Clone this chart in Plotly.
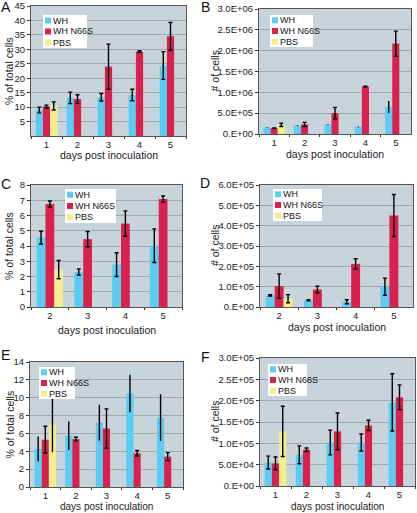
import plotly.graph_objects as go

W, H = 417, 513

# ---------------- data ----------------
series_names = ["WH", "WH N66S", "PBS"]

days_A = ["1", "2", "3", "4", "5"]
A_wh = [9.0, 13.2, 13.4, 14.2, 24.4]
A_wh_err = [1.0, 2.0, 1.3, 2.0, 4.8]
A_n66s = [10.2, 12.8, 24.0, 29.2, 34.5]
A_n66s_err = [0.5, 1.5, 7.8, 0.3, 4.8]
A_pbs = [10.4, None, None, None, None]
A_pbs_err = [1.4, 0, 0, 0, 0]

days_B = ["1", "2", "3", "4", "5"]
B_wh = [1.6e5, 2.0e5, 2.3e5, 1.7e5, 6.5e5]
B_wh_err = [0.1e5, 0.1e5, 0.1e5, 0.1e5, 1.4e5]
B_n66s = [1.4e5, 2.3e5, 5.0e5, 1.14e6, 2.17e6]
B_n66s_err = [0.05e5, 0.5e5, 1.4e5, 0.1e5, 3.0e5]
B_pbs = [2.2e5, None, None, None, None]
B_pbs_err = [0.4e5, 0, 0, 0, 0]

days_C = ["2", "3", "4", "5"]
C_wh = [4.55, 2.3, 2.78, 4.02]
C_wh_err = [0.42, 0.2, 0.78, 1.1]
C_n66s = [6.75, 4.45, 5.47, 7.08]
C_n66s_err = [0.2, 0.5, 0.83, 0.2]
C_pbs = [2.45, None, None, None]
C_pbs_err = [0.6, 0, 0, 0]

days_D = ["2", "3", "4", "5"]
D_wh = [0.57e5, 0.33e5, 0.26e5, 1.0e5]
D_wh_err = [0.03e5, 0.03e5, 0.1e5, 0.42e5]
D_n66s = [1.03e5, 0.86e5, 2.12e5, 4.5e5]
D_n66s_err = [0.6e5, 0.16e5, 0.25e5, 1.03e5]
D_pbs = [0.41e5, None, None, None]
D_pbs_err = [0.2e5, 0, 0, 0]

days_E = ["1", "2", "3", "4", "5"]
E_wh = [4.26, 5.74, 7.2, 10.48, 7.78]
E_wh_err = [1.4, 1.6, 2.0, 2.1, 2.6]
E_n66s = [5.3, 5.37, 6.55, 3.78, 3.4]
E_n66s_err = [1.5, 0.2, 2.2, 0.3, 0.45]
E_pbs = [7.0, None, None, None, None]
E_pbs_err = [3.1, 0, 0, 0, 0]

days_F = ["1", "2", "3", "4", "5"]
F_wh = [5.5e4, 7.3e4, 1.02e5, 1.02e5, 1.96e5]
F_wh_err = [1.5e4, 2.1e4, 2.9e4, 2.0e4, 6.7e4]
F_n66s = [5.3e4, 8.5e4, 1.28e5, 1.42e5, 2.08e5]
F_n66s_err = [1.5e4, 0.4e4, 4.3e4, 1.2e4, 2.9e4]
F_pbs = [1.28e5, None, None, None, None]
F_pbs_err = [5.9e4, 0, 0, 0, 0]

A_ticks = [5, 10, 15, 20, 25, 30, 35, 40, 45]
A_ticktext = ["5", "10", "15", "20", "25", "30", "35", "40", "45"]
B_ticks = [0, 5e5, 1e6, 1.5e6, 2e6, 2.5e6, 3e6]
B_ticktext = ["0.E+00", "5.0E+05", "1.0E+06", "1.5E+06", "2.0E+06", "2.5E+06", "3.0E+06"]
C_ticks = [0, 1, 2, 3, 4, 5, 6, 7, 8]
C_ticktext = ["0", "1", "2", "3", "4", "5", "6", "7", "8"]
D_ticks = [0, 1e5, 2e5, 3e5, 4e5, 5e5, 6e5]
D_ticktext = ["0.E+00", "1.0E+05", "2.0E+05", "3.0E+05", "4.0E+05", "5.0E+05", "6.0E+05"]
E_ticks = [0, 2, 4, 6, 8, 10, 12, 14]
E_ticktext = ["0", "2", "4", "6", "8", "10", "12", "14"]
F_ticks = [0, 5e4, 1e5, 1.5e5, 2e5, 2.5e5, 3e5]
F_ticktext = ["0.E+00", "5.0E+04", "1.0E+05", "1.5E+05", "2.0E+05", "2.5E+05", "3.0E+05"]

x_title = "days post inoculation"
y_title_pct = "% of total cells"
y_title_num = "# of cells"

# ---------------- styling / layout ----------------
COLORS = ["#5ccdf2", "#d8214c", "#f3ef8e"]
FONT = "Liberation Sans, Arial, sans-serif"
PLOT_BG = "#c7d4db"
GRID = "#9ea9ae"

panels = [
    dict(letter="A", days=days_A, vals=[A_wh, A_n66s, A_pbs], errs=[A_wh_err, A_n66s_err, A_pbs_err],
         ymax=45, ticks=A_ticks, ticktext=A_ticktext, ytitle=y_title_pct,
         box=(31, 6, 186, 136), legend=(43, 15, 87, 48), letter_pos=(0, 7), capw=[2, 2, 2],
         xtitle_y=155, ytitle_x=9),
    dict(letter="B", days=days_B, vals=[B_wh, B_n66s, B_pbs], errs=[B_wh_err, B_n66s_err, B_pbs_err],
         ymax=3e6, ticks=B_ticks, ticktext=B_ticktext, ytitle=y_title_num,
         box=(259, 9, 411, 134), legend=(270, 15, 313, 47), letter_pos=(200, 7), capw=[0, 2, 2],
         xtitle_y=154, ytitle_x=215),
    dict(letter="C", days=days_C, vals=[C_wh, C_n66s, C_pbs], errs=[C_wh_err, C_n66s_err, C_pbs_err],
         ymax=8, ticks=C_ticks, ticktext=C_ticktext, ytitle=y_title_pct,
         box=(31, 185, 182, 307), legend=(65, 189, 116, 223), letter_pos=(0, 184), capw=[2, 2, 2],
         xtitle_y=330, ytitle_x=9),
    dict(letter="D", days=days_D, vals=[D_wh, D_n66s, D_pbs], errs=[D_wh_err, D_n66s_err, D_pbs_err],
         ymax=6e5, ticks=D_ticks, ticktext=D_ticktext, ytitle=y_title_num,
         box=(260, 185, 413, 307), legend=(273, 189, 322, 221), letter_pos=(199, 183), capw=[2, 2, 2],
         xtitle_y=327, ytitle_x=215),
    dict(letter="E", days=days_E, vals=[E_wh, E_n66s, E_pbs], errs=[E_wh_err, E_n66s_err, E_pbs_err],
         ymax=14, ticks=E_ticks, ticktext=E_ticktext, ytitle=y_title_pct,
         box=(30, 362, 183, 487), legend=(39, 367, 75, 399), letter_pos=(0, 355), capw=[0, 2, 0],
         xtitle_y=506.5, ytitle_x=9),
    dict(letter="F", days=days_F, vals=[F_wh, F_n66s, F_pbs], errs=[F_wh_err, F_n66s_err, F_pbs_err],
         ymax=3e5, ticks=F_ticks, ticktext=F_ticktext, ytitle=y_title_num,
         box=(260, 358, 415, 486), legend=(268, 364, 307, 396), letter_pos=(200, 357), capw=[2, 2, 2],
         xtitle_y=506.5, ytitle_x=215),
]


def px_x(p):
    return p / W


def px_y(p):
    return 1 - p / H


fig = go.Figure()
shapes = []
annotations = []
layout_axes = {}

for i, p in enumerate(panels):
    n = i + 1
    xa = "x" if n == 1 else f"x{n}"
    ya = "y" if n == 1 else f"y{n}"
    for s in range(3):
        fig.add_trace(go.Bar(
            x=p["days"], y=p["vals"][s], name=series_names[s],
            marker=dict(color=COLORS[s], line=dict(width=0)),
            error_y=dict(type="data", array=p["errs"][s], color="black",
                         thickness=1.4, width=p["capw"][s], visible=True),
            xaxis=xa, yaxis=ya, showlegend=False, hoverinfo="skip",
        ))
    x0, y0, x1, y1 = p["box"]
    xkey = "xaxis" if n == 1 else f"xaxis{n}"
    ykey = "yaxis" if n == 1 else f"yaxis{n}"
    layout_axes[xkey] = dict(
        domain=[px_x(x0), px_x(x1)], anchor=ya, type="category",
        tickson="boundaries", ticks="outside", ticklen=2, tickwidth=1, tickcolor="#333",
        showline=True, linecolor="#555", linewidth=1, mirror=True,
        showgrid=False, automargin=False,
        tickfont=dict(size=9.5, color="#222", family=FONT),
    )
    layout_axes[ykey] = dict(
        domain=[px_y(y1), px_y(y0)], anchor=xa, range=[0, p["ymax"]],
        tickmode="array", tickvals=p["ticks"], ticktext=p["ticktext"],
        ticks="outside", ticklen=3, tickwidth=1, tickcolor="#333",
        showline=True, linecolor="#555", linewidth=1, mirror=True,
        showgrid=True, gridcolor=GRID, gridwidth=1, zeroline=False, automargin=False,
        tickfont=dict(size=9.5, color="#222", family=FONT),
    )
    # axis titles
    tsize = 10 if p["xtitle_y"] > 480 else 10.5
    annotations.append(dict(text=x_title, x=px_x((x0 + x1) / 2), y=px_y(p["xtitle_y"]),
                            xref="paper", yref="paper", xanchor="center", yanchor="middle",
                            showarrow=False, borderpad=0,
                            font=dict(size=tsize, color="#222", family=FONT)))
    annotations.append(dict(text=p["ytitle"], x=px_x(p["ytitle_x"]), y=px_y((y0 + y1) / 2),
                            xref="paper", yref="paper", xanchor="center", yanchor="middle",
                            textangle=-90, showarrow=False, borderpad=0,
                            font=dict(size=10.5, color="#222", family=FONT)))
    # plot background per panel
    shapes.append(dict(type="rect", xref=f"{xa} domain", yref=f"{ya} domain",
                       x0=0, x1=1, y0=0, y1=1, fillcolor=PLOT_BG, line=dict(width=0), layer="below"))
    # panel letter
    lx, ly = p["letter_pos"]
    annotations.append(dict(text=p["letter"], x=px_x(lx), y=px_y(ly), xref="paper", yref="paper",
                            xanchor="left", yanchor="middle", showarrow=False, borderpad=0,
                            font=dict(size=14, color="#111", family=FONT)))
    # legend box
    lx0, ly0, lx1, ly1 = p["legend"]
    shapes.append(dict(type="rect", xref="paper", yref="paper",
                       x0=px_x(lx0), x1=px_x(lx1), y0=px_y(ly1), y1=px_y(ly0),
                       fillcolor="white", line=dict(width=0)))
    rowh = (ly1 - ly0) / 3
    for s in range(3):
        cy = ly0 + rowh * (s + 0.5)
        shapes.append(dict(type="rect", xref="paper", yref="paper",
                           x0=px_x(lx0 + 2), x1=px_x(lx0 + 8), y0=px_y(cy + 3), y1=px_y(cy - 3),
                           fillcolor=COLORS[s], line=dict(width=0)))
        annotations.append(dict(text=series_names[s], x=px_x(lx0 + 9), y=px_y(cy),
                                xref="paper", yref="paper", xanchor="left", yanchor="middle",
                                showarrow=False, borderpad=0,
                                font=dict(size=9, color="#111", family=FONT)))

fig.update_layout(
    width=W, height=H, margin=dict(l=0, r=0, t=0, b=0),
    paper_bgcolor="white", plot_bgcolor="rgba(0,0,0,0)",
    barmode="group", bargap=0.3, bargroupgap=0,
    showlegend=False, shapes=shapes, annotations=annotations,
    font=dict(family=FONT, size=10, color="#222"),
    **layout_axes,
)

fig.write_html("out.html",
               config={"displayModeBar": False, "staticPlot": True},
               post_script="document.body.style.margin='0';document.body.style.padding='0';")
